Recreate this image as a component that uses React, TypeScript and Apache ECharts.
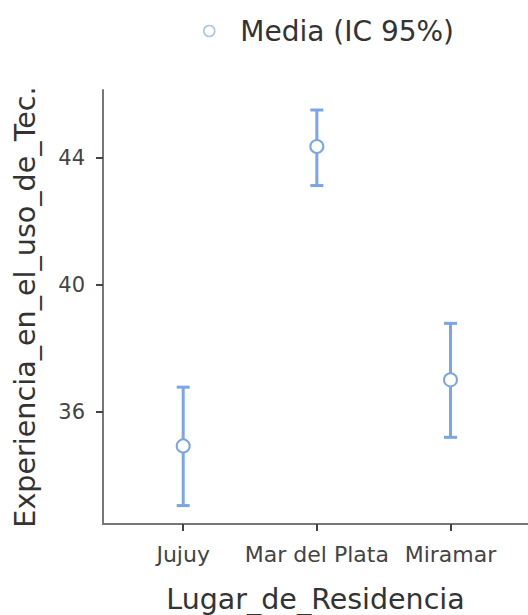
import React, { useEffect, useRef } from "react";
import * as echarts from "echarts";

const categories = ["Jujuy", "Mar del Plata", "Miramar"];
const means = [34.92, 44.35, 37.0];
const lower = [33.04, 43.12, 35.19];
const upper = [36.77, 45.5, 38.78];
const yTicks = [36, 40, 44];
const legendName = "Media (IC 95%)";

const BLUE = "#7aa5e8";
const FONT = "DejaVu Sans";

export default function App() {
  const ref = useRef<HTMLDivElement>(null);
  useEffect(() => {
    if (!ref.current) return;
    const chart = echarts.init(ref.current, null, { renderer: "svg" });
    const data = categories.map((c, i) => [i + 1, lower[i], upper[i], means[i]]);
    chart.setOption({
      animation: false,
      backgroundColor: "#ffffff",
      legend: {
        left: 198,
        top: 12,
        itemWidth: 52,
        itemHeight: 11,
        textStyle: { fontFamily: FONT, fontSize: 28, color: "#333" },
        data: [
          {
            name: legendName,
            icon: "circle",
            itemStyle: { color: "#ffffff", borderColor: "#a8c3ee", borderWidth: 1.5 },
          },
        ],
      },
      grid: { left: 103, right: 0, top: 90, bottom: 91, containLabel: false, outerBoundsMode: "none" },
      xAxis: {
        type: "value",
        min: 0.4,
        max: 3.58,
        name: "Lugar_de_Residencia",
        nameLocation: "middle",
        nameGap: 61,
        nameTextStyle: { fontFamily: FONT, fontSize: 28.5, color: "#333" },
        splitLine: { show: false },
        axisLine: { show: true, lineStyle: { color: "#777", width: 2 } },
        axisTick: { show: true, length: 7, customValues: [1, 2, 3], lineStyle: { color: "#444", width: 2 } },
        axisLabel: {
          customValues: [1, 2, 3],
          formatter: (v: number) => categories[Math.round(v) - 1] ?? "",
          fontFamily: FONT,
          fontSize: 22,
          color: "#444",
          margin: 19,
        },
      },
      yAxis: {
        type: "value",
        min: 32.46,
        max: 46.13,
        name: "Experiencia_en_el_uso_de_Tec.",
        nameLocation: "middle",
        nameGap: 64,
        nameRotate: 90,
        nameTextStyle: { fontFamily: FONT, fontSize: 28.6, color: "#333" },
        splitLine: { show: false },
        axisLine: { show: true, lineStyle: { color: "#777", width: 2 } },
        axisTick: { show: true, length: 7, customValues: yTicks, lineStyle: { color: "#444", width: 2 } },
        axisLabel: {
          customValues: yTicks,
          fontFamily: FONT,
          fontSize: 21,
          color: "#444",
          margin: 18,
        },
      },
      series: [
        {
          type: "custom",
          name: legendName,
          data,
          encode: { x: 0, y: [1, 2, 3] },
          renderItem: (params: any, api: any) => {
            const x = api.value(0);
            const bot = api.coord([x, api.value(1)]);
            const top = api.coord([x, api.value(2)]);
            const mid = api.coord([x, api.value(3)]);
            const hw = 6.5;
            const ls = { stroke: BLUE, lineWidth: 3 };
            return {
              type: "group",
              children: [
                { type: "line", shape: { x1: top[0], y1: top[1], x2: bot[0], y2: bot[1] }, style: ls },
                { type: "line", shape: { x1: top[0] - hw, y1: top[1], x2: top[0] + hw, y2: top[1] }, style: ls },
                { type: "line", shape: { x1: bot[0] - hw, y1: bot[1], x2: bot[0] + hw, y2: bot[1] }, style: ls },
                {
                  type: "circle",
                  shape: { cx: mid[0], cy: mid[1], r: 6.5 },
                  style: { fill: "#ffffff", stroke: BLUE, lineWidth: 2 },
                },
              ],
            };
          },
        },
      ],
    });
    return () => chart.dispose();
  }, []);
  return (
    <div
      ref={ref}
      style={{ position: "fixed", left: 0, top: 0, width: 528, height: 615 }}
    />
  );
}
